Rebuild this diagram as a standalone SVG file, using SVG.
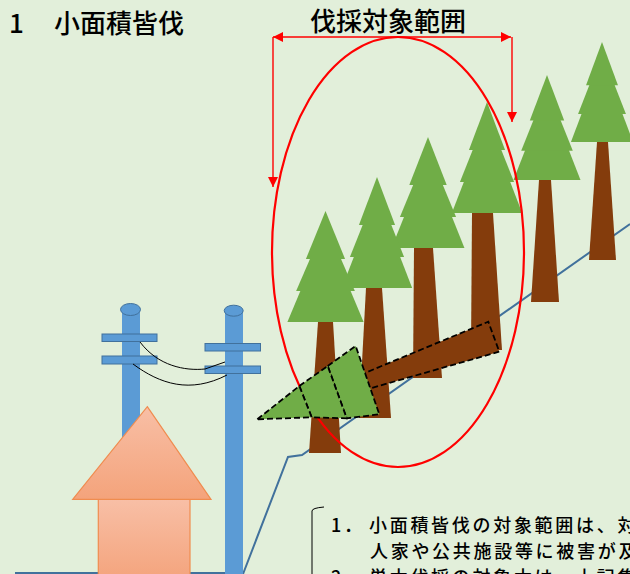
<svg xmlns="http://www.w3.org/2000/svg" xmlns:xlink="http://www.w3.org/1999/xlink" width="630" height="574" viewBox="0 0 630 574">
  <style>
    .title { font-family: "Noto Sans CJK JP", "Noto Sans", sans-serif; font-size: 26px; font-weight: 500; fill: #000; }
    .note { font-family: "Noto Sans CJK JP", "Noto Sans", sans-serif; font-size: 18px; font-weight: 500; letter-spacing: 2.7px; fill: #000; }
    .leaf { fill: #70AD47; }
    .trunk { fill: #843C0C; }
    .pole { fill: #5B9BD5; }
    .arm { fill: #5B9BD5; stroke: #41719C; stroke-width: 1; }
    .wire { fill: none; stroke: #000; stroke-width: 1; }
    .slope { fill: none; stroke: #41719C; stroke-width: 2; }
    .felled { stroke: #000; stroke-width: 1.8; stroke-dasharray: 6 3; stroke-linejoin: miter; }
    .dim { fill: none; stroke: #FF0000; stroke-width: 1.4; }
  </style>
  <defs>
    <!-- three-tier conifer crown, apex at origin -->
    <g id="crown" class="leaf">
      <polygon points="0,20 -37,111 37,111"/>
      <polygon points="0,12 -28.5,80 28.5,80"/>
      <polygon points="0,0 -19,48 19,48"/>
    </g>
    <linearGradient id="roofGrad" x1="0" y1="0" x2="0" y2="1">
      <stop offset="0" stop-color="#F8BFA6"/>
      <stop offset="1" stop-color="#F4A37B"/>
    </linearGradient>
    <linearGradient id="wallGrad" x1="0" y1="0" x2="0" y2="1">
      <stop offset="0" stop-color="#F8BFA6"/>
      <stop offset="1" stop-color="#F4A47D"/>
    </linearGradient>
    <marker id="arrow" viewBox="0 0 10 10" refX="10" refY="5" markerWidth="11" markerHeight="10" markerUnits="userSpaceOnUse" orient="auto-start-reverse">
      <path d="M0,0 L10,5 L0,10 z" fill="#FF0000"/>
    </marker>
  </defs>

  <rect width="630" height="574" fill="#E2EFDA"/>

  <!-- ground and hillside -->
  <g id="ground">
    <path class="slope" d="M15,573 H243"/>
    <path class="slope" d="M243,574 L288,457 L302,455 L630,224"/>
  </g>

  <!-- utility poles and wires -->
  <g id="pole-left">
    <rect class="pole" x="122" y="309" width="18" height="265"/>
    <ellipse class="arm" cx="130.5" cy="309.5" rx="10" ry="6"/>
    <rect class="arm" x="102" y="334" width="55" height="7.5"/>
    <rect class="arm" x="102" y="356" width="55" height="8"/>
  </g>
  <g id="pole-right">
    <rect class="pole" x="225" y="311" width="18" height="263"/>
    <ellipse class="arm" cx="233.7" cy="310.7" rx="9.5" ry="5.5"/>
    <rect class="arm" x="205" y="343.5" width="55.5" height="7.5"/>
    <rect class="arm" x="205" y="366" width="55.5" height="7.5"/>
  </g>
  <g id="wires">
    <path class="wire" d="M140,342 C158,366 185,371 205,369 L225,362"/>
    <path class="wire" d="M133,364 C160,384 190,394 227,375"/>
  </g>

  <!-- house -->
  <g id="house">
    <rect x="98.3" y="499" width="91.7" height="80" fill="url(#wallGrad)" stroke="#F08C4F" stroke-width="1.2"/>
    <polygon points="147.3,406.7 211,499.3 72.7,499.3" fill="url(#roofGrad)" stroke="#F08C4F" stroke-width="1.2"/>
  </g>

  <!-- standing trees -->
  <g id="tree-6">
    <polygon class="trunk" points="597,142 608,142 616,260 589,260"/>
    <use xlink:href="#crown" href="#crown" transform="translate(602,42) scale(0.84,0.9)"/>
  </g>
  <g id="tree-5">
    <polygon class="trunk" points="539,180 551,180 559,302 531,302"/>
    <use xlink:href="#crown" href="#crown" transform="translate(547,75) scale(0.905,0.946)"/>
  </g>
  <g id="tree-4">
    <polygon class="trunk" points="472,213 493,213 502,350 471,350"/>
    <use xlink:href="#crown" href="#crown" transform="translate(487,102) scale(0.95,1)"/>
  </g>
  <g id="tree-3">
    <polygon class="trunk" points="414,248 433,248 442,378 413,378"/>
    <use xlink:href="#crown" href="#crown" transform="translate(428,137) scale(0.985,1)"/>
  </g>
  <g id="tree-2">
    <polygon class="trunk" points="366,288 382,288 391,418 359,418"/>
    <use xlink:href="#crown" href="#crown" transform="translate(377,177) scale(0.95,1)"/>
  </g>
  <g id="tree-1">
    <polygon class="trunk" points="318,322 333,322 341,453 309,453"/>
    <use xlink:href="#crown" href="#crown" transform="translate(325.5,211) scale(1.03,1)"/>
  </g>

  <!-- felling area -->
  <g id="felling-area">
    <ellipse cx="398" cy="252" rx="126" ry="215" fill="none" stroke="#FF0000" stroke-width="2.2"/>
  </g>

  <!-- felled tree -->
  <g id="felled-tree">
    <polygon class="felled trunk" points="360,375 488.3,321.7 499.3,351.7 368,389"/>
    <polygon class="felled leaf" points="327.7,366 355.7,346 379.3,414.3 346.7,418.3"/>
    <polygon class="felled leaf" points="299.3,386 327.7,366 346.7,418.3 311.7,417.3"/>
    <polygon class="felled leaf" points="257.3,419.3 299.3,386 311.7,417.3"/>
  </g>

  <!-- dimension arrows -->
  <g id="connectors">
    <path class="dim" d="M273,37 H511" marker-start="url(#arrow)" marker-end="url(#arrow)"/>
    <path class="dim" d="M273,37 V187" marker-end="url(#arrow)"/>
    <path class="dim" d="M512,37 V122" marker-end="url(#arrow)"/>
  </g>

  <!-- labels -->
  <g id="heading">
    <text class="title" x="9" y="33">1</text>
    <text class="title" x="54" y="33">小面積皆伐</text>
  </g>
  <g id="area-label">
    <text class="title" x="310" y="31">伐採対象範囲</text>
  </g>
  <g id="notes">
    <path d="M312,574 V511 Q312,508 324,507" fill="none" stroke="#000" stroke-width="1"/>
    <text class="note" y="531.5"><tspan x="331">1．</tspan><tspan x="369">小面積皆伐の対象範囲は、対</tspan></text>
    <text class="note" x="370" y="557.5">人家や公共施設等に被害が及</text>
    <text class="note" y="583.5"><tspan x="331">2．</tspan><tspan x="369">単木伐採の対象木は、上記集</tspan></text>
  </g>
</svg>
